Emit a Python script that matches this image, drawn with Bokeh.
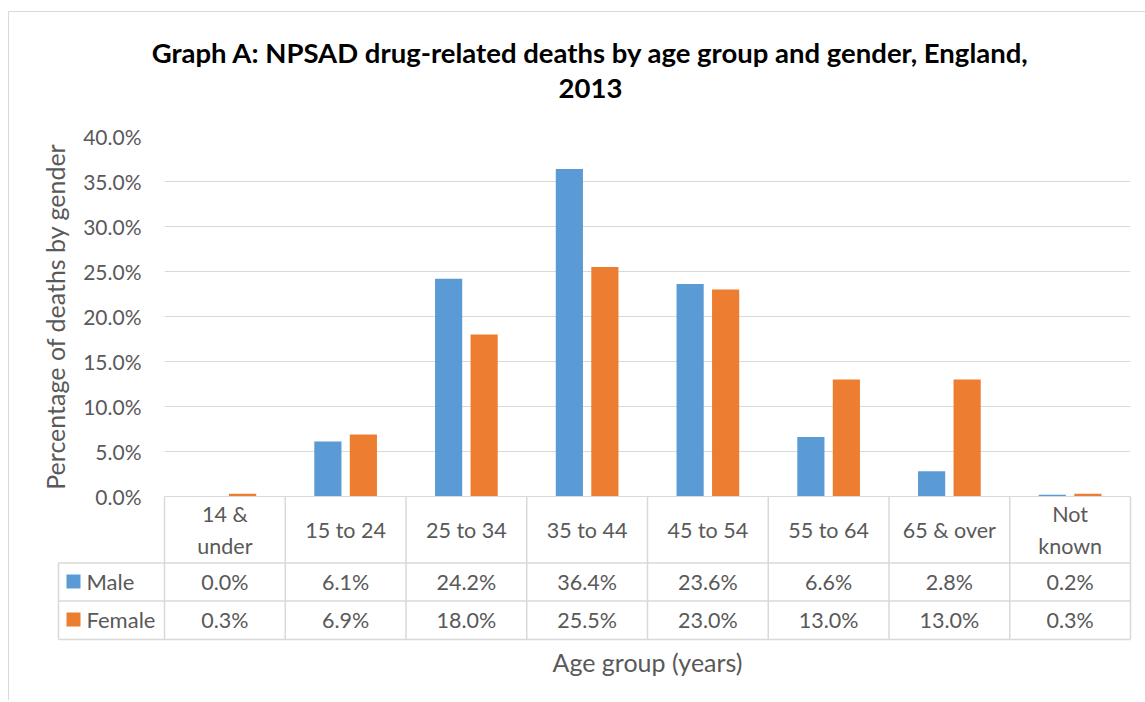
from bokeh.plotting import figure
from bokeh.models import Range1d, FixedTicker, PrintfTickFormatter, ColumnDataSource
from bokeh.core.properties import value
from bokeh.embed import file_html
from bokeh.resources import INLINE

# ---------------- data ----------------
categories = ["14 &\nunder", "15 to 24", "25 to 34", "35 to 44",
              "45 to 54", "55 to 64", "65 & over", "Not\nknown"]
male = [0.0, 6.1, 24.2, 36.4, 23.6, 6.6, 2.8, 0.2]
female = [0.3, 6.9, 18.0, 25.5, 23.0, 13.0, 13.0, 0.3]
series_names = ["Male", "Female"]
y_ticks = [0, 5, 10, 15, 20, 25, 30, 35, 40]

title_lines = ["Graph A: NPSAD drug-related deaths by age group and gender, England,", "2013"]
y_title = "Percentage of deaths by gender"
x_title = "Age group (years)"

BLUE = "#5B9BD5"
ORANGE = "#ED7D31"
TEXT = "#595959"
GRID = "#D9D9D9"
FONT = "Lato"

# ---------------- layout (page pixels) ----------------
PAGE_OFF = 0
FRAME_L, FRAME_T = 164, 136
FRAME_W, FRAME_H = 966, 360
N = len(categories)
YMAX = 40
PX_X = FRAME_W / N
PX_Y = FRAME_H / YMAX

def dx(px):   # page x pixel -> data x
    return (px - FRAME_L) / PX_X

def dy(py):   # page y pixel -> data y
    return (FRAME_T + FRAME_H - py) / PX_Y

W, H = 1145, 700

p = figure(width=W, height=H, frame_width=FRAME_W, frame_height=FRAME_H,
           x_range=Range1d(0, N), y_range=Range1d(0, YMAX),
           output_backend="svg", toolbar_location=None,
           min_border_left=FRAME_L - PAGE_OFF, min_border_top=FRAME_T - PAGE_OFF,
           min_border_right=W - (FRAME_L - PAGE_OFF) - FRAME_W,
           min_border_bottom=H - (FRAME_T - PAGE_OFF) - FRAME_H)
p.outline_line_color = None
p.background_fill_color = "white"
p.border_fill_color = "white"

# grid
p.xgrid.visible = False
p.ygrid.ticker = FixedTicker(ticks=y_ticks)
p.ygrid.grid_line_color = GRID
p.ygrid.grid_line_width = 1

# y axis
ya = p.yaxis[0]
ya.ticker = FixedTicker(ticks=y_ticks)
ya.formatter = PrintfTickFormatter(format="%.1f%%")
ya.axis_line_color = None
ya.major_tick_line_color = None
ya.minor_tick_line_color = None
ya.major_tick_out = 0
ya.minor_tick_out = 0
ya.major_label_standoff = 23
ya.major_label_text_font = FONT
ya.major_label_text_font_size = "21px"
ya.major_label_text_color = TEXT
ya.axis_label = y_title
ya.axis_label_text_font = FONT
ya.axis_label_text_font_style = "normal"
ya.axis_label_text_font_size = "25px"
ya.axis_label_text_color = TEXT
ya.axis_label_standoff = 10

# x axis (title only; its line is the table's top edge)
xa = p.xaxis[0]
xa.ticker = FixedTicker(ticks=[])
xa.axis_line_color = GRID
xa.major_tick_line_color = None
xa.minor_tick_line_color = None
xa.major_tick_out = 0
xa.minor_tick_out = 0
xa.axis_label = x_title
xa.axis_label_text_font = FONT
xa.axis_label_text_font_style = "normal"
xa.axis_label_text_font_size = "25px"
xa.axis_label_text_color = TEXT
xa.axis_label_standoff = 150

# bars
xc = [i + 0.5 for i in range(N)]
off = 0.147
bw = 0.225
src = ColumnDataSource(dict(xc=xc,
                            xm=[x - off for x in xc],
                            xf=[x + off for x in xc],
                            male=male, female=female,
                            cat=categories,
                            mlab=[f"{v:.1f}%" for v in male],
                            flab=[f"{v:.1f}%" for v in female]))
p.vbar(x="xm", top="male", width=bw, bottom=0, source=src,
       fill_color=BLUE, line_color=None)
p.vbar(x="xf", top="female", width=bw, bottom=0, source=src,
       fill_color=ORANGE, line_color=None)

# ---------------- data table below the axis ----------------
y_hdr_bot = dy(562.5)
y_m_bot = dy(600.5)
y_f_bot = dy(639)
x_leg = dx(58)

tl = dict(line_color=GRID, line_width=1.5, level="annotation")
p.segment(x0=list(range(N + 1)), y0=[0] * (N + 1),
          x1=list(range(N + 1)), y1=[y_f_bot] * (N + 1), **tl)
p.segment(x0=[x_leg] * 3, y0=[y_hdr_bot, y_m_bot, y_f_bot],
          x1=[N] * 3, y1=[y_hdr_bot, y_m_bot, y_f_bot], **tl)
p.segment(x0=[x_leg], y0=[y_hdr_bot], x1=[x_leg], y1=[y_f_bot], **tl)

txt = dict(text_font=value(FONT), text_font_size="21.5px", text_color=TEXT,
           text_align="center", text_baseline="middle", level="annotation")
p.text(x="xc", y=dy(529.5), text="cat", source=src, text_line_height=1.2, **txt)
p.text(x="xc", y=dy(581), text="mlab", source=src, **txt)
p.text(x="xc", y=dy(619), text="flab", source=src, **txt)

# legend keys inside the table (thick butt-capped segments as squares)
row_y = [dy(581), dy(619)]
p.segment(x0=[dx(66)] * 2, y0=row_y, x1=[dx(80)] * 2, y1=row_y,
          line_width=14, line_cap="butt", line_color=[BLUE, ORANGE],
          level="annotation")
p.text(x=[dx(86)] * 2, y=row_y, text=series_names,
       text_font=value(FONT), text_font_size="22px", text_color=TEXT,
       text_align="left", text_baseline="middle", level="annotation")

# ---------------- title ----------------
p.text(x=[dx(590)] * 2, y=[dy(52), dy(88)], text=title_lines,
       text_font=value(FONT), text_font_style="bold", text_font_size="27.5px",
       text_color="black", text_align="center", text_baseline="middle",
       level="annotation")

# chart border (top and left edges)
p.segment(x0=[dx(8), dx(8)], y0=[dy(11), dy(11)],
          x1=[dx(1160), dx(8)], y1=[dy(11), dy(720)],
          line_color=GRID, line_width=1, level="annotation")

open("out.html", "w").write(file_html(p, INLINE))
